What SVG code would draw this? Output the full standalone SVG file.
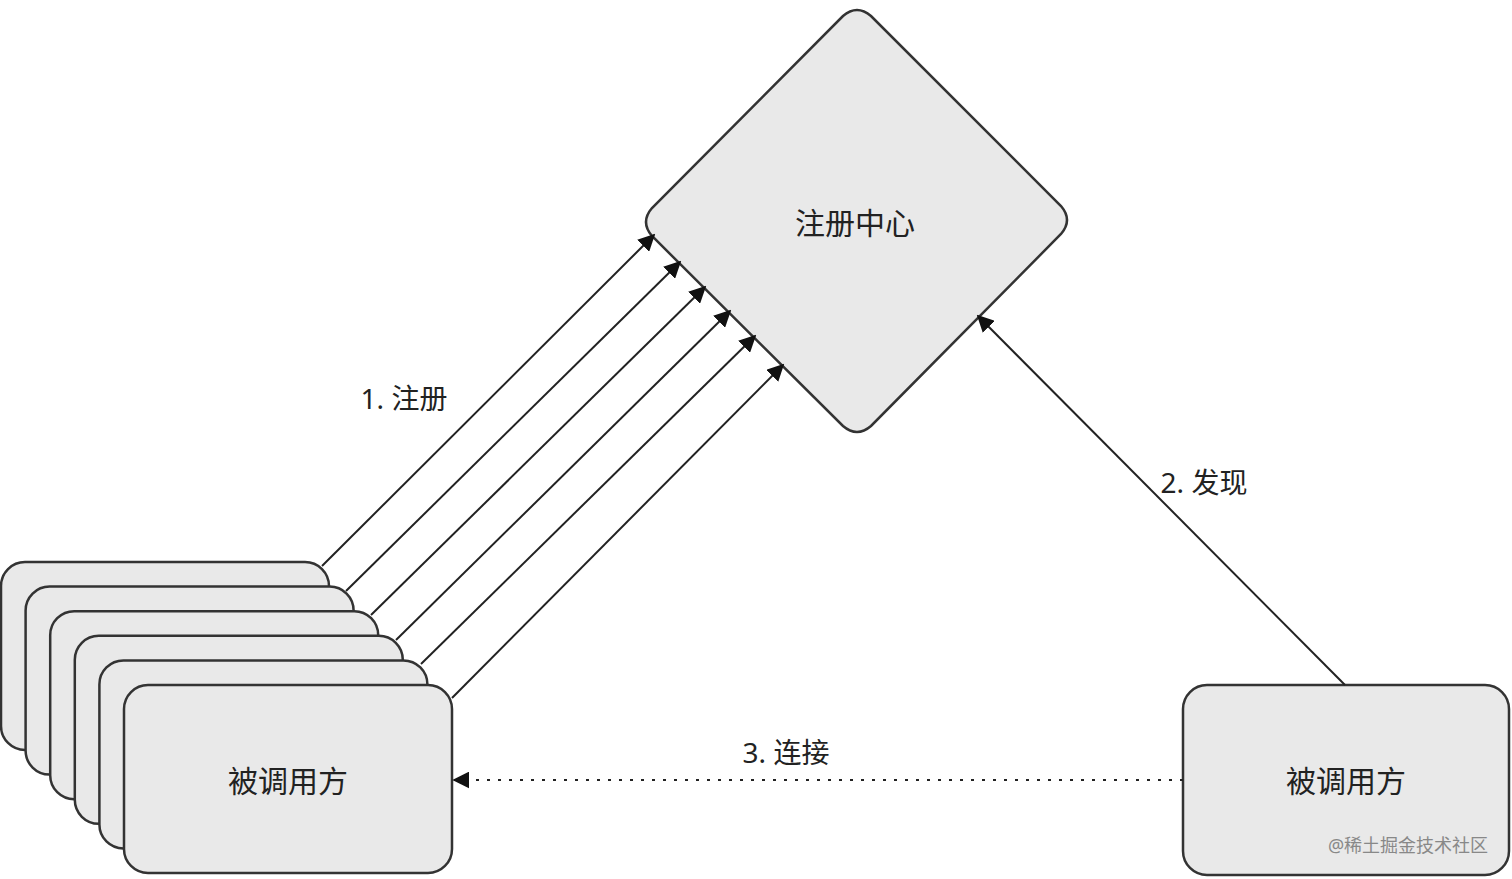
<svg xmlns="http://www.w3.org/2000/svg" width="1512" height="879" viewBox="0 0 1512 879">
<style>
.n{fill:#e9e9e9;stroke:#333;stroke-width:2.5}
.t{font-family:"Noto Sans","Noto Sans CJK SC",sans-serif;fill:#222;text-anchor:middle;dominant-baseline:central}
.c{stroke:#222;stroke-width:2;fill:none}
</style>
<defs><marker id="b" viewBox="0 0 10 10" refX="9" refY="5" markerWidth="17" markerHeight="17" orient="auto" markerUnits="userSpaceOnUse"><path d="M0,0L10,5L0,10z" fill="#111"/></marker></defs>
<rect width="1512" height="879" fill="#fff"/>
<g id="center"><path class="n" d="M843,16Q857,4 871,16L1061,206Q1073,220 1061,234L871,426Q857,438 843,426L652,236Q640,222 652,208Z"/><text class="t" x="855" y="222" font-size="30">注册中心</text></g>
<g id="stack">
<rect class="n" x="1" y="562" width="328" height="188" rx="24"/>
<rect class="n" x="25.6" y="586.6" width="328" height="188" rx="24"/>
<rect class="n" x="50.2" y="611.2" width="328" height="188" rx="24"/>
<rect class="n" x="74.8" y="635.8" width="328" height="188" rx="24"/>
<rect class="n" x="99.4" y="660.4" width="328" height="188" rx="24"/>
<rect class="n" x="124" y="685" width="328" height="188" rx="24"/>
<text class="t" x="288" y="780" font-size="30">被调用方</text></g>
<g id="caller"><rect class="n" x="1183" y="685" width="326" height="190" rx="24"/><text class="t" x="1346" y="780" font-size="30">被调用方</text></g>
<g id="edges">
<line class="c" x1="322" y1="566" x2="654" y2="235" marker-end="url(#b)"/>
<line class="c" x1="346" y1="591" x2="680" y2="262" marker-end="url(#b)"/>
<line class="c" x1="371" y1="615" x2="705" y2="287" marker-end="url(#b)"/>
<line class="c" x1="396" y1="640" x2="730" y2="311" marker-end="url(#b)"/>
<line class="c" x1="421" y1="664" x2="755" y2="336" marker-end="url(#b)"/>
<line class="c" x1="452" y1="698" x2="783" y2="365" marker-end="url(#b)"/>
<line class="c" x1="1345" y1="685" x2="978" y2="316" marker-end="url(#b)"/>
<line class="c" x1="1183" y1="780" x2="454" y2="780" stroke-dasharray="3 8" marker-end="url(#b)"/>
<text class="t" x="404" y="398" font-size="28">1. 注册</text>
<text class="t" x="1204" y="482" font-size="28">2. 发现</text>
<text class="t" x="786" y="752" font-size="28">3. 连接</text>
</g>
<text x="1408" y="845" class="t" font-size="18" style="fill:#888">@稀土掘金技术社区</text>
</svg>
